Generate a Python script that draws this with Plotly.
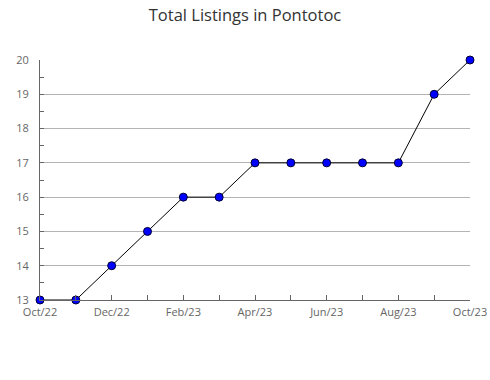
import plotly.graph_objects as go

months = ["Oct/22", "Nov/22", "Dec/22", "Jan/23", "Feb/23", "Mar/23", "Apr/23",
          "May/23", "Jun/23", "Jul/23", "Aug/23", "Sep/23", "Oct/23"]
listings = [13, 13, 14, 15, 16, 16, 17, 17, 17, 17, 17, 19, 20]
y_ticks = [13, 14, 15, 16, 17, 18, 19, 20]

x_idx = list(range(len(months)))
x_text = [m if i % 2 == 0 else "" for i, m in enumerate(months)]

fig = go.Figure()
fig.add_trace(go.Scatter(
    x=x_idx, y=listings, mode="lines+markers",
    line=dict(color="black", width=1),
    marker=dict(color="#0000ff", size=8, line=dict(color="#000033", width=1)),
    cliponaxis=False, showlegend=False,
))

fig.update_layout(
    width=490, height=380,
    margin=dict(l=40, r=20, t=60, b=80, autoexpand=False),
    paper_bgcolor="white", plot_bgcolor="white",
    font=dict(family="Open Sans, sans-serif", color="#666666", size=11),
    title=dict(text="Total Listings in Pontotoc", x=0.5, xanchor="center",
               y=0.976, yanchor="top",
               font=dict(size=16.5, color="#333333")),
)
fig.update_xaxes(
    range=[0, len(months) - 1], tickvals=x_idx, ticktext=x_text,
    showgrid=False, zeroline=False, automargin=False,
    showline=True, linecolor="#666666", linewidth=1,
    ticks="inside", ticklen=5, tickcolor="#666666",
    tickfont=dict(size=11, color="#666666"),
    ticklabelstandoff=2,
)
fig.update_yaxes(
    range=[13, 20], tickvals=y_ticks, ticktext=[str(v) for v in y_ticks],
    showgrid=True, gridcolor="#b4b4b4", gridwidth=1, zeroline=False, automargin=False,
    showline=True, linecolor="#666666", linewidth=1,
    ticks="inside", ticklen=4, tickcolor="#666666",
    minor=dict(dtick=0.5, tick0=13, ticks="inside", ticklen=4, tickcolor="#666666", showgrid=False),
    tickfont=dict(size=11, color="#666666"),
    ticklabelstandoff=8,
)

fig.write_html("out.html")
